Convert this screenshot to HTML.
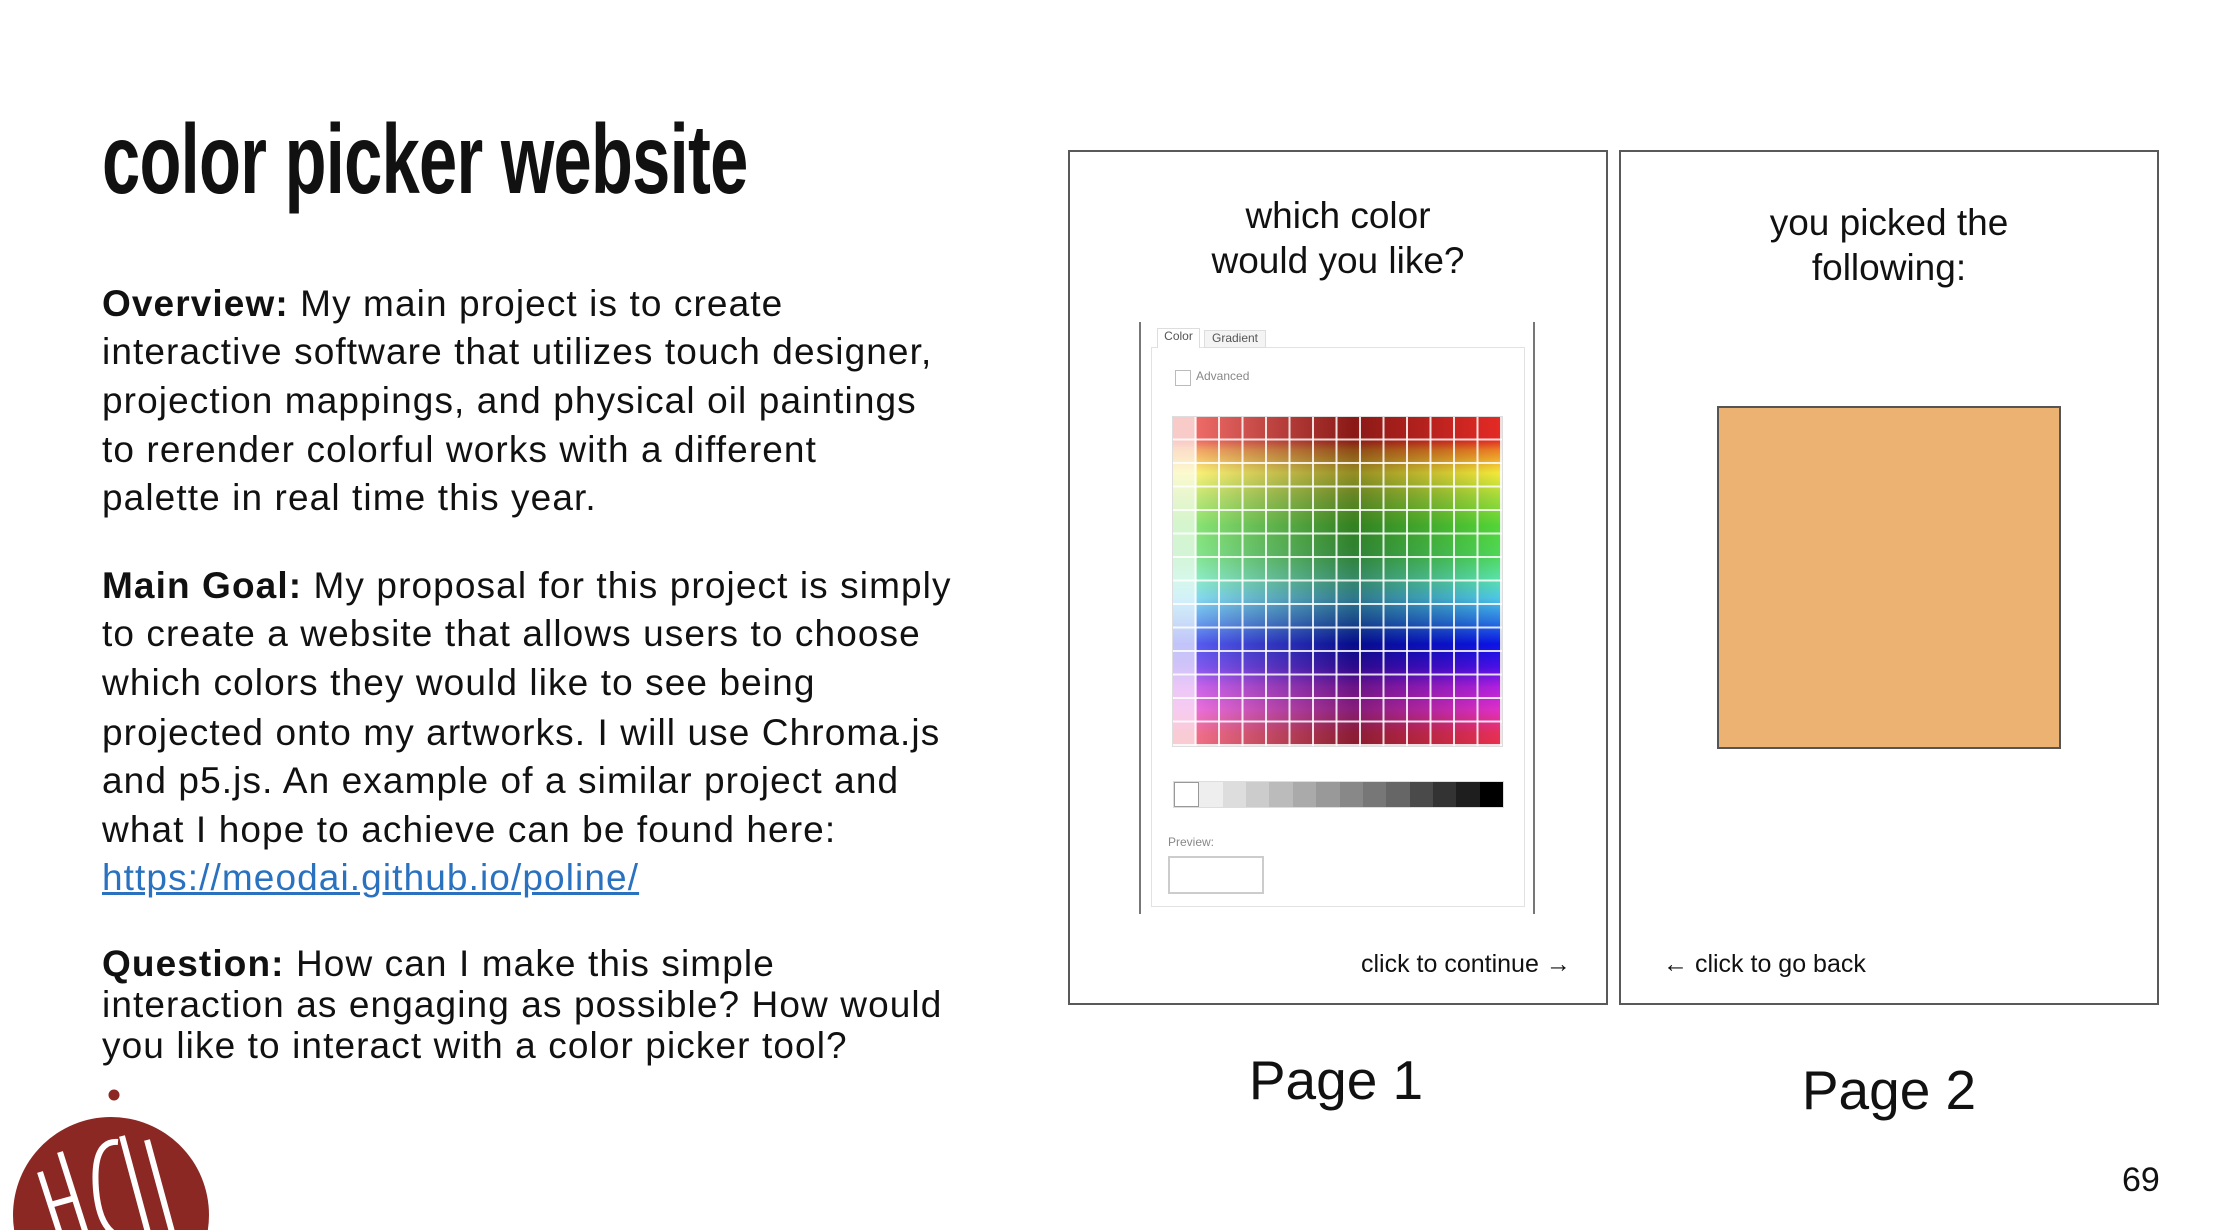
<!DOCTYPE html>
<html><head><meta charset="utf-8"><style>
html,body{margin:0;width:2214px;height:1232px;overflow:hidden}
body{background:#fff;position:relative;font-family:"Liberation Sans",Arial,sans-serif;color:#111}
.a{position:absolute;white-space:nowrap}
.t{font-size:37px;line-height:40px;left:102px;letter-spacing:1.1px}
b{font-weight:bold}
.box{position:absolute;border:2px solid #595959;background:#fff}
.c{text-align:center;font-size:37px;line-height:45px}
</style></head><body>
<div class="a" style="left:102px;top:104px;font-size:98px;line-height:110px;font-weight:bold;transform:scaleX(0.70);transform-origin:left top;letter-spacing:-1px">color picker website</div>

<div class="a t" style="top:284px"><b>Overview:</b> My main project is to create</div>
<div class="a t" style="top:332px">interactive software that utilizes touch designer,</div>
<div class="a t" style="top:381px">projection mappings, and physical oil paintings</div>
<div class="a t" style="top:430px">to rerender colorful works with a different</div>
<div class="a t" style="top:478px">palette in real time this year.</div>

<div class="a t" style="top:566px"><b>Main Goal:</b> My proposal for this project is simply</div>
<div class="a t" style="top:614px">to create a website that allows users to choose</div>
<div class="a t" style="top:663px">which colors they would like to see being</div>
<div class="a t" style="top:713px">projected onto my artworks. I will use Chroma.js</div>
<div class="a t" style="top:761px">and p5.js. An example of a similar project and</div>
<div class="a t" style="top:810px">what I hope to achieve can be found here:</div>
<div class="a t" style="top:858px;color:#2a72c0;text-decoration:underline">https://meodai.github.io/poline/</div>

<div class="a t" style="top:944px"><b>Question:</b> How can I make this simple</div>
<div class="a t" style="top:985px">interaction as engaging as possible? How would</div>
<div class="a t" style="top:1026px">you like to interact with a color picker tool?</div>

<!-- Page 1 -->
<div class="box" style="left:1068px;top:150px;width:536px;height:851px"></div>
<div class="a c" style="left:1068px;width:540px;top:193px">which color<br>would you like?</div>
<div class="a" style="left:1139px;top:322px;width:2px;height:592px;background:#777"></div>
<div class="a" style="left:1533px;top:322px;width:2px;height:592px;background:#777"></div>
<div class="a" style="left:1151px;top:347px;width:372px;height:558px;border:1px solid #e2e2e2"></div>
<div class="a" style="left:1157px;top:328px;width:41px;height:19px;font-size:12px;color:#555;background:#fff;border:1px solid #ddd;border-bottom:none;text-align:center">Color</div>
<div class="a" style="left:1204px;top:330px;width:60px;height:16px;font-size:12px;color:#555;background:#f4f4f4;border:1px solid #ddd;text-align:center">Gradient</div>
<div class="a" style="left:1175px;top:370px;width:14px;height:14px;border:1px solid #bbb"></div>
<div class="a" style="left:1196px;top:369px;font-size:12px;color:#888">Advanced</div>
<div class="a" style="left:1173px;top:417px;width:329px;height:329px;
background:
repeating-linear-gradient(90deg,transparent 0 21.5px,rgba(255,255,255,.85) 21.5px 23.5px),
repeating-linear-gradient(180deg,transparent 0 21.5px,rgba(255,255,255,.85) 21.5px 23.5px),
linear-gradient(90deg,rgba(255,255,255,.75) 0,rgba(255,255,255,.75) 23px,rgba(255,255,255,.3) 24px,rgba(0,0,0,.4) 55%,rgba(0,0,0,0) 100%),
linear-gradient(180deg,#e52a25 0,#e52a25 7%,#ee7f25 10%,#f5ea3a 17%,#a6dc3a 24%,#53d637 33%,#4fd85a 42%,#5ae3a8 49%,#4ec8e8 55%,#2a78e4 62%,#0a14e8 69%,#4a10e8 76%,#b020e0 82%,#e030c8 89%,#e8305c 96%,#e8304a 100%);
box-shadow:0 0 0 1px #ddd"></div>
<div class="a" style="left:1173px;top:781px;width:329px;height:25px;display:flex;border:1px solid #ddd">
<div style="flex:1;background:#fff;border:1px solid #999"></div><div style="flex:1;background:#eee"></div><div style="flex:1;background:#ddd"></div><div style="flex:1;background:#ccc"></div><div style="flex:1;background:#bbb"></div><div style="flex:1;background:#aaa"></div><div style="flex:1;background:#999"></div><div style="flex:1;background:#888"></div><div style="flex:1;background:#777"></div><div style="flex:1;background:#666"></div><div style="flex:1;background:#4a4a4a"></div><div style="flex:1;background:#333"></div><div style="flex:1;background:#1e1e1e"></div><div style="flex:1;background:#000"></div></div>
<div class="a" style="left:1168px;top:835px;font-size:12px;color:#888">Preview:</div>
<div class="a" style="left:1168px;top:856px;width:92px;height:34px;border:2px solid #ccc"></div>
<div class="a" style="left:1361px;top:949px;font-size:25px;line-height:30px">click to continue →</div>

<!-- Page 2 -->
<div class="box" style="left:1619px;top:150px;width:536px;height:851px"></div>
<div class="a c" style="left:1619px;width:540px;top:200px">you picked the<br>following:</div>
<div class="a" style="left:1717px;top:406px;width:340px;height:339px;background:#ebb271;border:2px solid #555"></div>
<div class="a" style="left:1663px;top:949px;font-size:25px;line-height:30px">← click to go back</div>

<div class="a" style="left:1136px;width:400px;text-align:center;top:1049px;font-size:55px;line-height:62px">Page 1</div>
<div class="a" style="left:1689px;width:400px;text-align:center;top:1059px;font-size:55px;line-height:62px">Page 2</div>
<div class="a" style="left:2122px;top:1160px;font-size:34px;line-height:40px">69</div>

<svg class="a" style="left:0;top:1080px" width="240" height="150">
<circle cx="114" cy="15" r="5.5" fill="#8b2824"/>
<circle cx="111" cy="135" r="98" fill="#8b2824"/>
<g stroke="#fff" stroke-width="6" fill="none">
<line x1="40" y1="92" x2="62" y2="160"/>
<line x1="60" y1="72" x2="88" y2="160"/>
<line x1="50" y1="125" x2="75" y2="118"/>
<path d="M118 62 Q92 60 96 110 Q100 155 126 158"/>
<line x1="122" y1="56" x2="150" y2="160"/>
<line x1="147" y1="60" x2="172" y2="152"/>
</g>
</svg>
</body></html>
